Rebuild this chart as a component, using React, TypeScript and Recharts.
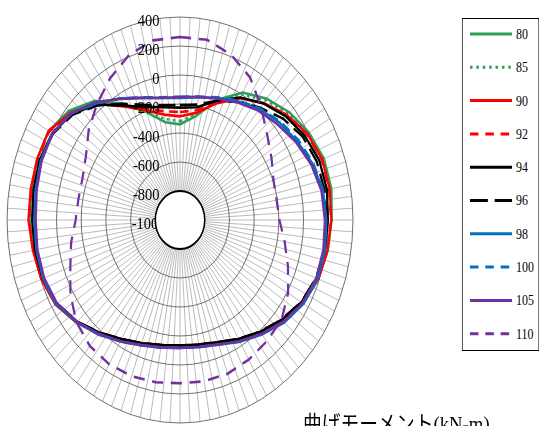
import React from 'react';
import { RadarChart, Radar, PolarGrid, PolarAngleAxis, PolarRadiusAxis, Legend } from 'recharts';

// angle (degrees, clockwise from top) of each data point
const ANGLES = [0, 10, 20, 30, 40, 50, 60, 70, 80, 90, 100, 110, 120, 130, 140, 150, 160, 170,
  180, 190, 200, 210, 220, 230, 240, 250, 260, 270, 280, 290, 300, 310, 320, 330, 340, 350];

const S80 = [-340, -275, -118, 15, 92, 155, 205, 240, 245, 228, 215, 190, 145, 80, 12, -52, -102, -124,
  -130, -122, -95, -50, 18, 95, 162, 192, 205, 218, 222, 232, 228, 172, 72, -72, -210, -315];
const S85 = [-318, -262, -130, 2, 78, 145, 198, 232, 238, 226, 213, 190, 148, 83, 14, -50, -102, -125,
  -131, -122, -94, -50, 19, 96, 164, 194, 205, 220, 222, 230, 229, 165, 60, -85, -203, -292];
const S90 = [-285, -250, -145, -30, 53, 128, 190, 225, 230, 225, 213, 192, 150, 86, 15, -48, -100, -125,
  -131, -122, -93, -50, 20, 97, 165, 195, 210, 228, 228, 230, 228, 155, 47, -95, -195, -262];
const S92 = [-255, -232, -138, -28, 52, 125, 185, 220, 226, 222, 210, 190, 150, 86, 15, -48, -100, -125,
  -131, -122, -93, -50, 20, 97, 163, 193, 206, 222, 224, 226, 222, 150, 42, -92, -185, -238];
const S94 = [-225, -210, -123, -25, 50, 115, 165, 200, 208, 197, 192, 175, 135, 72, 8, -52, -103, -127,
  -134, -124, -96, -52, 15, 90, 152, 182, 192, 197, 205, 210, 195, 140, 40, -90, -170, -210];
const S96 = [-207, -192, -125, -60, 10, 88, 148, 178, 188, 188, 186, 172, 133, 70, 6, -53, -104, -128,
  -134, -124, -96, -52, 14, 88, 150, 180, 188, 192, 200, 205, 188, 132, 32, -75, -155, -195];
const S98 = [-158, -140, -105, -57, 0, 48, 92, 140, 176, 185, 192, 186, 155, 100, 30, -30, -85, -110,
  -117, -106, -80, -32, 30, 95, 160, 180, 182, 180, 188, 200, 195, 150, 52, -30, -104, -146];
const S100 = [-150, -135, -100, -50, 5, 58, 105, 148, 178, 180, 188, 184, 152, 98, 28, -32, -86, -111,
  -118, -107, -81, -33, 28, 92, 158, 178, 180, 178, 186, 200, 193, 145, 50, -32, -100, -140];
const S105 = [-152, -138, -110, -65, -15, 28, 80, 128, 162, 172, 178, 174, 145, 92, 25, -35, -88, -112,
  -118, -108, -82, -35, 25, 90, 150, 170, 172, 168, 178, 192, 192, 145, 62, -37, -104, -146];
const S110 = [262, 262, 212, 135, 20, -80, -145, -195, -206, -195, -140, -70, 10, 72, 92, 112, 128, 130,
  126, 136, 146, 148, 135, 95, 25, -55, -105, -155, -165, -160, -120, -35, 45, 130, 210, 258];

const SERIES_NAMES = ['80', '85', '90', '92', '94', '96', '98', '100', '105', '110'];
const SERIES_VALUES = [S80, S85, S90, S92, S94, S96, S98, S100, S105, S110];
const RADIUS_MIN = -1000;
const RADIUS_MAX = 400;
const RADIUS_TICK_COUNT = 8;
const TITLE = '曲げモーメント(kN-m)';

// styling
const GREEN = '#2f9e5b';
const RED = '#ff0000';
const BLACK = '#000000';
const BLUE = '#0070c0';
const PURPLE = '#7030a0';
const SERIES_STYLE: Record<string, { color: string; dash?: string; legendDash?: string }> = {
  '80': { color: GREEN },
  '85': { color: GREEN, dash: '3 4', legendDash: '3 4.5' },
  '90': { color: RED },
  '92': { color: RED, dash: '10 7', legendDash: '10 8' },
  '94': { color: BLACK },
  '96': { color: BLACK, dash: '20 8', legendDash: '21 8' },
  '98': { color: BLUE },
  '100': { color: BLUE, dash: '11 7', legendDash: '10 8' },
  '105': { color: PURPLE },
  '110': { color: PURPLE, dash: '13 9', legendDash: '10 8' },
};

const FONT = "'Liberation Serif', 'Noto Sans CJK JP', serif";
const SX = 0.852;
const W = 633;
const H = 426;
const CX = 211.3;
const CY = 220;
const R = 203;
const HOLE_R = (R * 200) / (RADIUS_MAX - RADIUS_MIN);
const SPOKES = 108;
const SPOKE_ANGLES = Array.from({ length: SPOKES }, (_, i) => (i * 360) / SPOKES);

const data = ANGLES.map((a, i) => {
  const row: Record<string, number> = { angle: a };
  SERIES_NAMES.forEach((n, k) => {
    row['s' + n] = SERIES_VALUES[k][i];
  });
  return row;
});

const renderRadiusTick = (props: any) => {
  const { x, y, payload } = props;
  const v = payload.value;
  const isMin = v === RADIUS_MIN;
  return (
    <g>
      <text x={x - (isMin ? 17 : 24)} y={y + 9} textAnchor="end" fontSize={17} fontFamily={FONT} fill="#000">
        {v}
      </text>
      {isMin ? <circle cx={x} cy={y} r={HOLE_R} fill="#fff" stroke="#000" strokeWidth={1.8} /> : null}
    </g>
  );
};

const LegendBox = () => (
  <svg width={92} height={334} style={{ display: 'block' }}>
    <rect x={0.5} y={0.5} width={90} height={332} fill="#fff" stroke="#000" strokeWidth={1} />
    {SERIES_NAMES.map((n, i) => {
      const y = 16 + i * 33.3;
      const st = SERIES_STYLE[n];
      return (
        <g key={n}>
          <line x1={9.6} x2={59} y1={y} y2={y} stroke={st.color} strokeWidth={3} strokeDasharray={st.legendDash} />
          <text x={63.6} y={y + 5} fontSize={14} fontFamily={FONT} fill="#000">
            {n}
          </text>
        </g>
      );
    })}
  </svg>
);

export default function App() {
  return (
    <div style={{ position: 'absolute', left: 0, top: 0, width: 539, height: H, overflow: 'hidden', background: '#fff' }}>
      <div
        style={{
          position: 'absolute',
          left: 0,
          top: 0,
          width: W,
          height: H,
          transform: `scaleX(${SX})`,
          transformOrigin: '0 0',
          overflow: 'hidden',
        }}
      >
        <RadarChart
          width={W}
          height={H}
          data={data}
          cx={CX}
          cy={CY}
          outerRadius={R}
          innerRadius={0}
          margin={{ top: 0, right: 0, bottom: 0, left: 0 }}
          startAngle={90}
          endAngle={-270}
        >
          <PolarGrid gridType="circle" polarAngles={SPOKE_ANGLES} polarRadius={[]} radialLines stroke="#a3a3a3" strokeWidth={0.8} />
          <PolarGrid gridType="circle" radialLines={false} stroke="#666" strokeWidth={1} />
          <PolarAngleAxis dataKey="angle" tick={false} axisLine={false} tickLine={false} />
          <PolarRadiusAxis
            angle={90}
            type="number"
            domain={[RADIUS_MIN, RADIUS_MAX]}
            tickCount={RADIUS_TICK_COUNT}
            axisLine={false}
            tickLine={false}
            tick={renderRadiusTick}
          />
          {SERIES_NAMES.map((n) => {
            const st = SERIES_STYLE[n];
            return (
              <Radar
                key={n}
                name={n}
                dataKey={'s' + n}
                stroke={st.color}
                strokeWidth={2.6}
                strokeDasharray={st.dash}
                fill="none"
                fillOpacity={0}
                dot={false}
                legendType="line"
                isAnimationActive={false}
              />
            );
          })}
          <Legend
            layout="vertical"
            align="right"
            verticalAlign="top"
            content={() => <LegendBox />}
            wrapperStyle={{ left: 542, top: 18, right: undefined, bottom: undefined, width: 92, height: 334 }}
          />
        </RadarChart>
        <div
          style={{
            position: 'absolute',
            left: 355.6,
            top: 412,
            fontFamily: FONT,
            fontSize: 22,
            lineHeight: '24px',
            whiteSpace: 'nowrap',
            color: '#000',
          }}
        >
          {TITLE}
        </div>
      </div>
    </div>
  );
}
